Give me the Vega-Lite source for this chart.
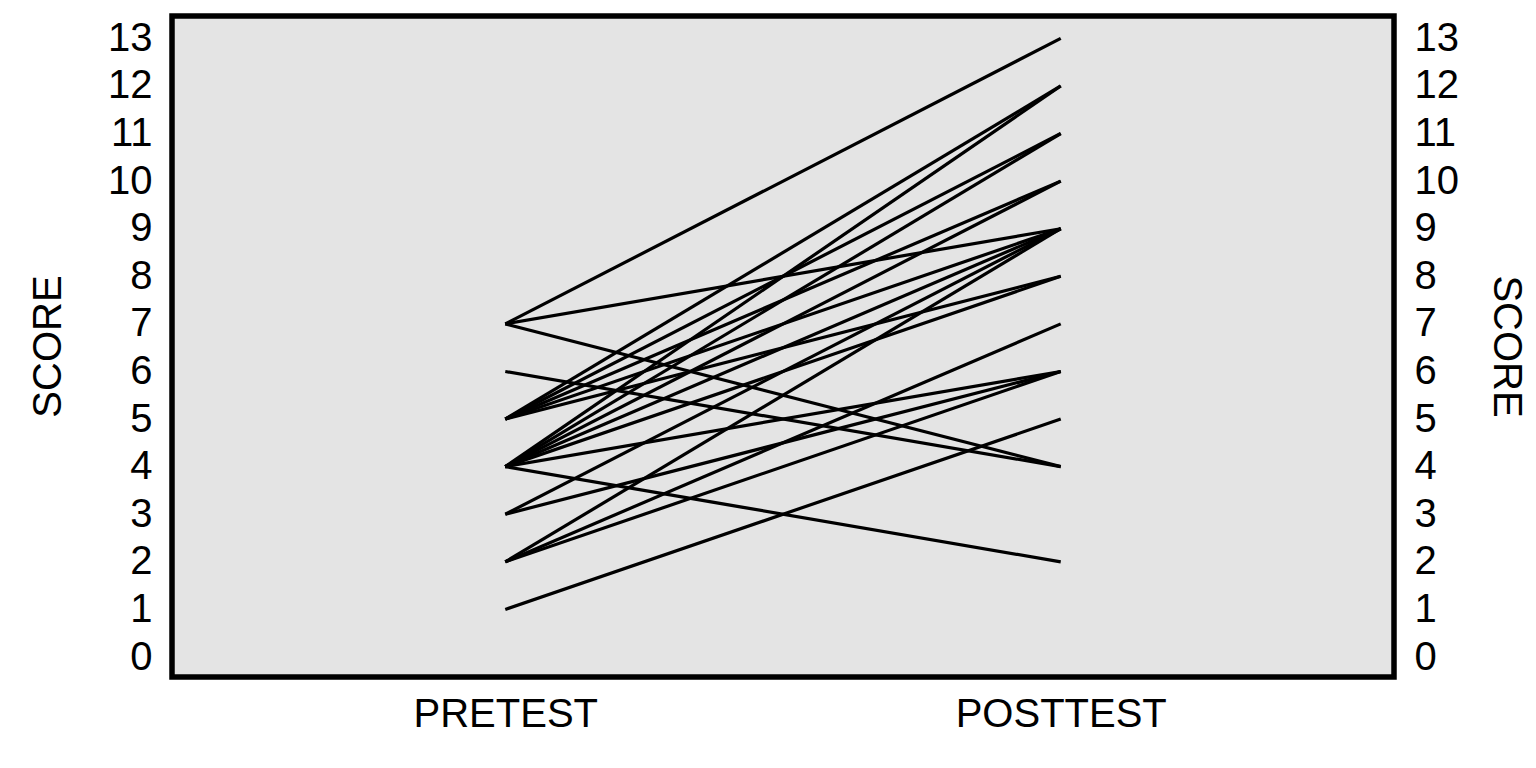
{
  "$schema": "https://vega.github.io/schema/vega-lite/v6.json",
  "description": "Paired pretest/posttest scores, one line per student",
  "width": 1222,
  "height": 661,
  "autosize": "none",
  "padding": {"left": 172, "top": 16, "right": 142, "bottom": 91},
  "background": "white",
  "config": {
    "view": {"fill": "#e4e4e4", "stroke": "black", "strokeWidth": 5.5},
    "font": "Liberation Sans",
    "axis": {
      "domain": false,
      "ticks": false,
      "grid": false,
      "labelFont": "Liberation Sans",
      "labelFontSize": 40,
      "labelColor": "black",
      "labelLimit": 0,
      "titleFont": "Liberation Sans",
      "titleFontSize": 40,
      "titleFontWeight": "normal",
      "titleColor": "black"
    }
  },
  "data": {
    "values": [
      {"id": 1, "test": "PRETEST", "score": 7}, {"id": 1, "test": "POSTTEST", "score": 13},
      {"id": 2, "test": "PRETEST", "score": 7}, {"id": 2, "test": "POSTTEST", "score": 9},
      {"id": 3, "test": "PRETEST", "score": 7}, {"id": 3, "test": "POSTTEST", "score": 4},
      {"id": 4, "test": "PRETEST", "score": 6}, {"id": 4, "test": "POSTTEST", "score": 4},
      {"id": 5, "test": "PRETEST", "score": 5}, {"id": 5, "test": "POSTTEST", "score": 12},
      {"id": 6, "test": "PRETEST", "score": 5}, {"id": 6, "test": "POSTTEST", "score": 11},
      {"id": 7, "test": "PRETEST", "score": 5}, {"id": 7, "test": "POSTTEST", "score": 10},
      {"id": 8, "test": "PRETEST", "score": 5}, {"id": 8, "test": "POSTTEST", "score": 9},
      {"id": 9, "test": "PRETEST", "score": 5}, {"id": 9, "test": "POSTTEST", "score": 8},
      {"id": 10, "test": "PRETEST", "score": 4}, {"id": 10, "test": "POSTTEST", "score": 12},
      {"id": 11, "test": "PRETEST", "score": 4}, {"id": 11, "test": "POSTTEST", "score": 11},
      {"id": 12, "test": "PRETEST", "score": 4}, {"id": 12, "test": "POSTTEST", "score": 10},
      {"id": 13, "test": "PRETEST", "score": 4}, {"id": 13, "test": "POSTTEST", "score": 9},
      {"id": 14, "test": "PRETEST", "score": 4}, {"id": 14, "test": "POSTTEST", "score": 8},
      {"id": 15, "test": "PRETEST", "score": 4}, {"id": 15, "test": "POSTTEST", "score": 6},
      {"id": 16, "test": "PRETEST", "score": 4}, {"id": 16, "test": "POSTTEST", "score": 2},
      {"id": 17, "test": "PRETEST", "score": 3}, {"id": 17, "test": "POSTTEST", "score": 9},
      {"id": 18, "test": "PRETEST", "score": 3}, {"id": 18, "test": "POSTTEST", "score": 6},
      {"id": 19, "test": "PRETEST", "score": 2}, {"id": 19, "test": "POSTTEST", "score": 9},
      {"id": 20, "test": "PRETEST", "score": 2}, {"id": 20, "test": "POSTTEST", "score": 7},
      {"id": 21, "test": "PRETEST", "score": 2}, {"id": 21, "test": "POSTTEST", "score": 6},
      {"id": 22, "test": "PRETEST", "score": 1}, {"id": 22, "test": "POSTTEST", "score": 5}
    ]
  },
  "encoding": {
    "x": {
      "field": "test",
      "type": "ordinal",
      "sort": ["PRETEST", "POSTTEST"],
      "scale": {"type": "point", "padding": 0.6},
      "axis": {"title": null, "labelAngle": 0, "labelPadding": 17}
    },
    "detail": {"field": "id", "type": "nominal"}
  },
  "layer": [
    {
      "mark": {"type": "line", "color": "black", "strokeWidth": 3.2},
      "encoding": {
        "y": {
          "field": "score",
          "type": "quantitative",
          "scale": {"domain": [-0.42, 13.47], "nice": false, "zero": false},
          "axis": {
            "orient": "left",
            "title": "SCORE",
            "values": [0, 1, 2, 3, 4, 5, 6, 7, 8, 9, 10, 11, 12, 13],
            "labelPadding": 20,
            "titleAngle": -90,
            "titleBaseline": "middle",
            "titleX": -124,
            "titleY": 330
          }
        }
      }
    },
    {
      "mark": {"type": "line", "color": "black", "strokeWidth": 3.2, "opacity": 0},
      "encoding": {
        "y": {
          "field": "score",
          "type": "quantitative",
          "scale": {"domain": [-0.42, 13.47], "nice": false, "zero": false},
          "axis": {
            "orient": "right",
            "title": "SCORE",
            "values": [0, 1, 2, 3, 4, 5, 6, 7, 8, 9, 10, 11, 12, 13],
            "labelPadding": 20,
            "titleAngle": 90,
            "titleBaseline": "middle",
            "titleX": 111,
            "titleY": 330
          }
        }
      }
    }
  ],
  "resolve": {"axis": {"y": "independent"}}
}
